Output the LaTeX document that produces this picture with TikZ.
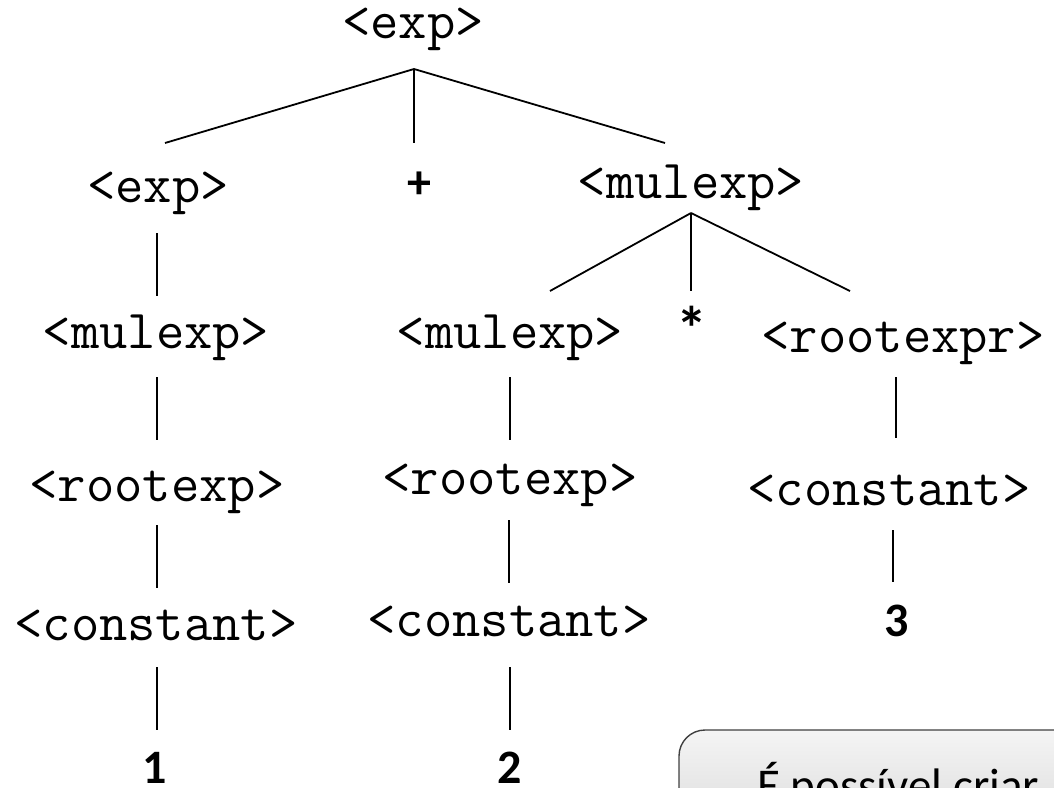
\documentclass[tikz,border=0pt]{standalone}
\usepackage{fontspec}
\setmainfont{Carlito}
\newfontfamily\labelfont{Carlito}
\begin{document}
\begin{tikzpicture}[x=1pt,y=-1pt,
  sym/.style={inner sep=0pt,anchor=base,font=\ttfamily\fontsize{55}{62}\selectfont},
  term/.style={inner sep=0pt,anchor=base,font=\labelfont\bfseries\fontsize{48}{56}\selectfont},
  op/.style={inner sep=0pt,anchor=center,font=\labelfont\bfseries\fontsize{48}{56}\selectfont},
  edge/.style={line width=1.8pt,black},
  notebox/.style={draw=black!75,line width=1.4pt,rounded corners=26pt,top color=black!4,bottom color=black!14}]
\useasboundingbox (0,0) rectangle (1054,787);
\clip (0,0) rectangle (1054,787);

% grammar symbols
\node[sym] (e0) at (413,38) {<exp>};
\node[sym] (e1) at (158,202) {<exp>};
\node[op]  (plus) at (419,185) {+};
\node[sym] (m1) at (691,198) {<mulexp>};
\node[sym] (m2) at (156,348) {<mulexp>};
\node[sym] (m3) at (510,348) {<mulexp>};
\node[op,font=\labelfont\bfseries\fontsize{62}{70}\selectfont] (star) at (692,328) {*};
\node[sym] (rx) at (903,352) {<rootexpr>};
\node[sym] (r1) at (157,501) {<rootexp>};
\node[sym] (r2) at (510,494) {<rootexp>};
\node[sym] (c3) at (889,505) {<constant>};
\node[sym] (c1) at (156,640) {<constant>};
\node[sym] (c2) at (509,636) {<constant>};
\node[term] (n1) at (155,783) {1};
\node[term] (n2) at (510,783) {2};
\node[term] (n3) at (897,636) {3};

% branch points
\coordinate (e0b) at (414,69);
\coordinate (e1t) at (165,143);
\coordinate (pt)  at (414,143);
\coordinate (m1t) at (665,143);
\coordinate (m1b) at (691,213);
\coordinate (m3t) at (550,291);
\coordinate (st)  at (691,291);
\coordinate (rxt) at (850,291);

% tree edges
\draw[edge] (e0b) -- (e1t);
\draw[edge] (e0b) -- (pt);
\draw[edge] (e0b) -- (m1t);
\draw[edge] (m1b) -- (m3t);
\draw[edge] (m1b) -- (st);
\draw[edge] (m1b) -- (rxt);

\coordinate (e1b) at (157,233);  \coordinate (m2t) at (157,296);
\coordinate (m2b) at (157,377);  \coordinate (r1t) at (157,440);
\coordinate (r1b) at (157,525);  \coordinate (c1t) at (157,588);
\coordinate (c1b) at (157,667);  \coordinate (n1t) at (157,730);
\coordinate (m3b) at (510,377);  \coordinate (r2t) at (510,440);
\coordinate (r2b) at (509,520);  \coordinate (c2t) at (509,583);
\coordinate (c2b) at (510,667);  \coordinate (n2t) at (510,730);
\coordinate (rxb) at (896,377);  \coordinate (c3t) at (896,438);
\coordinate (c3b) at (893,530);  \coordinate (n3t) at (893,582);

\draw[edge] (e1b) -- (m2t);
\draw[edge] (m2b) -- (r1t);
\draw[edge] (r1b) -- (c1t);
\draw[edge] (c1b) -- (n1t);
\draw[edge] (m3b) -- (r2t);
\draw[edge] (r2b) -- (c2t);
\draw[edge] (c2b) -- (n2t);
\draw[edge] (rxb) -- (c3t);
\draw[edge] (c3b) -- (n3t);

% note box at the lower right
\draw[notebox] (679,730) rectangle (1090,830);
\node[inner sep=0pt,anchor=base west,font=\labelfont\fontsize{47}{56}\selectfont] (note) at (757,801) {É possível criar};
\end{tikzpicture}
\end{document}
